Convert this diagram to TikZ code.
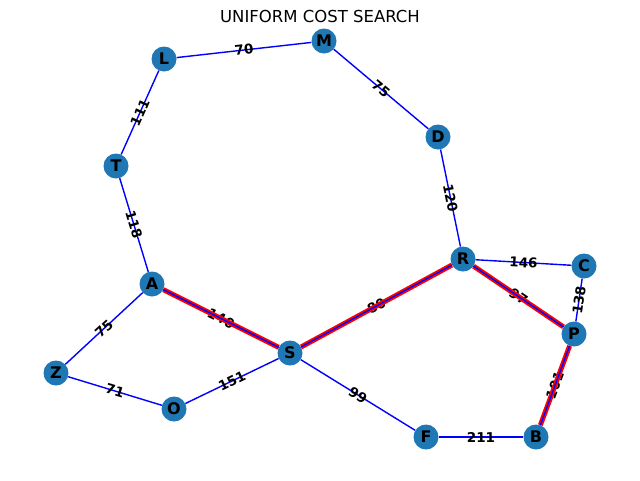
\documentclass[tikz,border=0pt]{standalone}
\usepackage{fontspec}
\setmainfont{DejaVu Sans}
\usepackage{tikz}
\usetikzlibrary{positioning}

\definecolor{nodeblue}{HTML}{1F77B4}
\tikzset{
  city/.style={circle, fill=nodeblue, minimum size=25pt, inner sep=0pt, font=\fontsize{16}{16}\selectfont\bfseries},
  road/.style={blue, line width=1.4pt},
  cost/.style={sloped, text=black, font=\fontsize{13.5}{13.5}\selectfont\bfseries, inner sep=0pt},
  route/.style={draw=red, line width=1.8pt, double=blue, double distance=1.4pt}
}

\begin{document}
\begin{tikzpicture}[x=1pt, y=-1pt]
\useasboundingbox (0,0) rectangle (640,480);
\node (title) at (320,16) {\fontsize{16.5}{16.5}\selectfont UNIFORM COST SEARCH};
% cities
\node[city] (L) at (164,59) {L};
\node[city] (M) at (324,41) {M};
\node[city] (D) at (438,137) {D};
\node[city] (T) at (116,166) {T};
\node[city] (R) at (463,259) {R};
\node[city] (C) at (584,266) {C};
\node[city] (A) at (152,284) {A};
\node[city] (P) at (574,334) {P};
\node[city] (S) at (290,353) {S};
\node[city] (Z) at (56,373) {Z};
\node[city] (O) at (174,409) {O};
\node[city] (F) at (426,437) {F};
\node[city] (B) at (536,437) {B};
% roads with costs
\foreach \u/\v/\c in {L/M/70, M/D/75, L/T/111, T/A/118, D/R/120, R/C/146,
                      C/P/138, R/P/97, A/S/140, S/R/80, A/Z/75, Z/O/71,
                      O/S/151, S/F/99, F/B/211, P/B/101}
  \draw[road] (\u) -- node[cost] {\c} (\v);
% path found
\foreach \u/\v in {A/S, S/R, R/P, P/B}
  \draw[route] (\u) -- (\v);
\end{tikzpicture}
\end{document}
